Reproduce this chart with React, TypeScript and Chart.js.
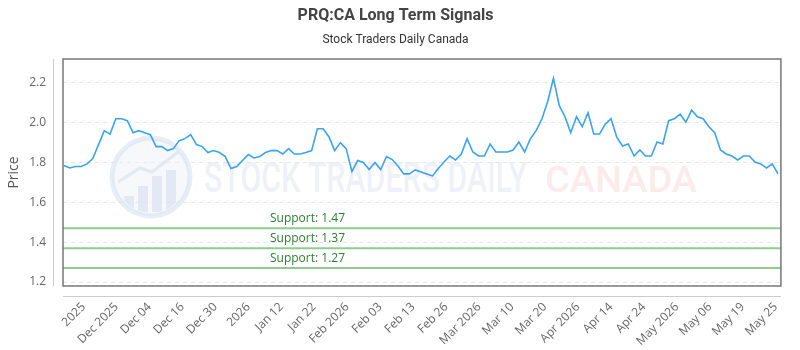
import React, { useEffect, useRef } from "react";
import { Chart, registerables } from "chart.js";

Chart.register(...registerables);

const titleText = "PRQ:CA Long Term Signals";
const subtitleText = "Stock Traders Daily Canada";

const prices = [
  1.785, 1.773, 1.78, 1.78, 1.793, 1.82, 1.89, 1.96, 1.943, 2.02,
  2.02, 2.01, 1.95, 1.96, 1.95, 1.94, 1.88, 1.88, 1.86, 1.87,
  1.91, 1.92, 1.94, 1.89, 1.88, 1.85, 1.86, 1.85, 1.83, 1.77,
  1.78, 1.81, 1.84, 1.823, 1.83, 1.85, 1.86, 1.86, 1.843, 1.87,
  1.843, 1.843, 1.85, 1.86, 1.97, 1.97, 1.93, 1.86, 1.9, 1.87,
  1.755, 1.81, 1.8, 1.765, 1.8, 1.765, 1.83, 1.815, 1.783, 1.743,
  1.743, 1.763, 1.753, 1.743, 1.733, 1.77, 1.803, 1.833, 1.813, 1.843,
  1.92, 1.853, 1.833, 1.833, 1.893, 1.853, 1.853, 1.853, 1.863, 1.903,
  1.853, 1.92, 1.96, 2.02, 2.107, 2.223, 2.087, 2.03, 1.95, 2.03,
  1.98, 2.05, 1.943, 1.943, 1.993, 2.02, 1.927, 1.883, 1.893, 1.833,
  1.863, 1.833, 1.833, 1.903, 1.893, 2.01, 2.02, 2.043, 2.003, 2.063,
  2.03, 2.02, 1.98, 1.95, 1.863, 1.843, 1.833, 1.813, 1.833, 1.833,
  1.803, 1.793, 1.773, 1.793, 1.743,
];

const xTickLabels = [
  "2025", "Dec 2025", "Dec 04", "Dec 16", "Dec 30", "2026", "Jan 12", "Jan 22",
  "Feb 2026", "Feb 03", "Feb 13", "Feb 26", "Mar 2026", "Mar 10", "Mar 20",
  "Apr 2026", "Apr 14", "Apr 24", "May 2026", "May 06", "May 19", "May 25",
];

const yTickValues = [1.2, 1.4, 1.6, 1.8, 2.0, 2.2];
const supportLevels = [1.47, 1.37, 1.27];

const Y_MIN = 1.18;
const Y_MAX = 2.32;
const X_MIN = -0.17;
const X_MAX = prices.length - 1 + 0.5;
const TICK_START = 3.4;
const TICK_STEP = 5.724;

const FONT = "'Open Sans', sans-serif";

const decorPlugin = {
  id: "decor",
  beforeDatasetsDraw(chart: any) {
    const { ctx } = chart;
    ctx.save();
    // logo ring
    const cx = 151, cy = 177, r = 39;
    ctx.beginPath();
    ctx.arc(cx, cy, r, 0, Math.PI * 2);
    ctx.fillStyle = "rgba(238,242,249,0.5)";
    ctx.fill();
    ctx.lineWidth = 5;
    ctx.strokeStyle = "rgba(214,224,238,0.55)";
    ctx.stroke();
    // bars in logo
    ctx.fillStyle = "rgba(214,224,238,0.6)";
    const bars = [[124, 196, 10, 14], [138, 186, 10, 26], [152, 176, 10, 36], [166, 170, 10, 42]];
    bars.forEach(([x, y, w, h]) => {
      ctx.save();
      ctx.beginPath();
      ctx.arc(cx, cy, r - 3, 0, Math.PI * 2);
      ctx.clip();
      ctx.fillRect(x, y, w, h);
      ctx.restore();
    });
    ctx.beginPath();
    ctx.moveTo(118, 182);
    ctx.lineTo(140, 168);
    ctx.lineTo(152, 172);
    ctx.lineTo(178, 152);
    ctx.lineWidth = 3;
    ctx.strokeStyle = "rgba(214,224,238,0.6)";
    ctx.stroke();

    // watermark text
    ctx.textBaseline = "alphabetic";
    ctx.textAlign = "left";
    ctx.font = "500 42px Roboto";
    const t1 = "STOCK TRADERS DAILY";
    const w1 = ctx.measureText(t1).width;
    ctx.save();
    ctx.translate(204, 192);
    ctx.scale(323 / w1, 1);
    ctx.fillStyle = "rgba(226,232,242,0.6)";
    ctx.fillText(t1, 0, 0);
    ctx.restore();
    const t2 = "CANADA";
    ctx.font = "500 36px Roboto";
    const w2 = ctx.measureText(t2).width;
    ctx.save();
    ctx.translate(545, 192);
    ctx.scale(152 / w2, 1);
    ctx.fillStyle = "rgba(252,218,218,0.55)";
    ctx.fillText(t2, 0, 0);
    ctx.restore();
    ctx.restore();
  },
  afterDatasetsDraw(chart: any) {
    const { ctx, chartArea, scales } = chart;
    ctx.save();
    // support labels
    ctx.font = `12px ${FONT}`;
    ctx.fillStyle = "#2f7d32";
    ctx.textAlign = "left";
    ctx.textBaseline = "middle";
    supportLevels.forEach((s) => {
      const y = scales.y.getPixelForValue(s);
      ctx.fillText(`Support: ${s.toFixed(2)}`, 270, y - 10);
    });
    // chart area frame
    ctx.strokeStyle = "#777";
    ctx.lineWidth = 1.5;
    ctx.strokeRect(chartArea.left, chartArea.top, chartArea.right - chartArea.left, chartArea.bottom - chartArea.top);
    // detached axis lines
    ctx.strokeStyle = "#ccc";
    ctx.lineWidth = 1;
    ctx.beginPath();
    ctx.moveTo(chartArea.left - 9.5, chartArea.top);
    ctx.lineTo(chartArea.left - 9.5, chartArea.bottom);
    ctx.moveTo(chartArea.left, chartArea.bottom + 10.5);
    ctx.lineTo(chartArea.right, chartArea.bottom + 10.5);
    ctx.stroke();
    ctx.restore();
  },
};

export default function App() {
  const canvasRef = useRef<HTMLCanvasElement | null>(null);

  useEffect(() => {
    document.body.style.margin = "0";
    const canvas = canvasRef.current;
    if (!canvas) return;

    const datasets: any[] = [
      {
        label: "PRQ:CA",
        data: prices.map((v, i) => ({ x: i, y: v })),
        borderColor: "#3aa3f2",
        borderWidth: 1.6,
        pointRadius: 0,
        tension: 0,
        fill: false,
      },
      ...supportLevels.map((s) => ({
        label: `Support ${s}`,
        data: [
          { x: X_MIN, y: s },
          { x: X_MAX, y: s },
        ],
        borderColor: "#8fcc8f",
        borderWidth: 2,
        pointRadius: 0,
        fill: false,
      })),
    ];

    const chart = new Chart(canvas, {
      type: "line",
      data: { datasets },
      plugins: [decorPlugin],
      options: {
        responsive: false,
        animation: false,
        layout: { padding: { left: 0, right: 9, top: 0, bottom: 0 } },
        plugins: {
          legend: { display: false },
          tooltip: { enabled: false },
          title: {
            display: true,
            text: titleText,
            color: "#444",
            font: { family: "Roboto", size: 16, weight: "bold", lineHeight: 1.2 },
            padding: { top: 6, bottom: 8 },
          },
          subtitle: {
            display: true,
            text: subtitleText,
            color: "#333",
            font: { family: "Roboto", size: 12, lineHeight: 1.2 },
            padding: { top: 0, bottom: 11.4 },
          },
        },
        scales: {
          x: {
            type: "linear",
            min: X_MIN,
            max: X_MAX,
            grid: { display: false, drawTicks: false },
            border: { display: false },
            afterBuildTicks: (scale: any) => {
              scale.ticks = xTickLabels.map((_, i) => ({ value: TICK_START + i * TICK_STEP }));
            },
            afterFit: (scale: any) => {
              scale.height = 64;
            },
            ticks: {
              autoSkip: false,
              maxRotation: 45,
              minRotation: 45,
              padding: 14,
              color: "#666",
              font: { family: "Open Sans", size: 12 },
              callback: (_v: any, i: number) => xTickLabels[i],
            },
          },
          y: {
            type: "linear",
            min: Y_MIN,
            max: Y_MAX,
            afterBuildTicks: (scale: any) => {
              scale.ticks = yTickValues.map((v) => ({ value: v }));
            },
            afterFit: (scale: any) => {
              scale.width = 63;
            },
            grid: { color: "#e8e8e8", drawTicks: false, lineWidth: 1 },
            border: { display: false, dash: [4, 4] },
            ticks: {
              padding: 17,
              color: "#666",
              font: { family: "Open Sans", size: 12 },
              callback: (v: any) => Number(v).toFixed(1),
            },
            title: {
              display: true,
              text: "Price",
              color: "#555",
              font: { family: "Open Sans", size: 14 },
              padding: { top: 6, bottom: 0 },
            },
          },
        },
      },
    });

    return () => chart.destroy();
  }, []);

  return (
    <div style={{ width: 800, height: 350, background: "#fff" }}>
      <canvas ref={canvasRef} width={800} height={350} />
    </div>
  );
}
